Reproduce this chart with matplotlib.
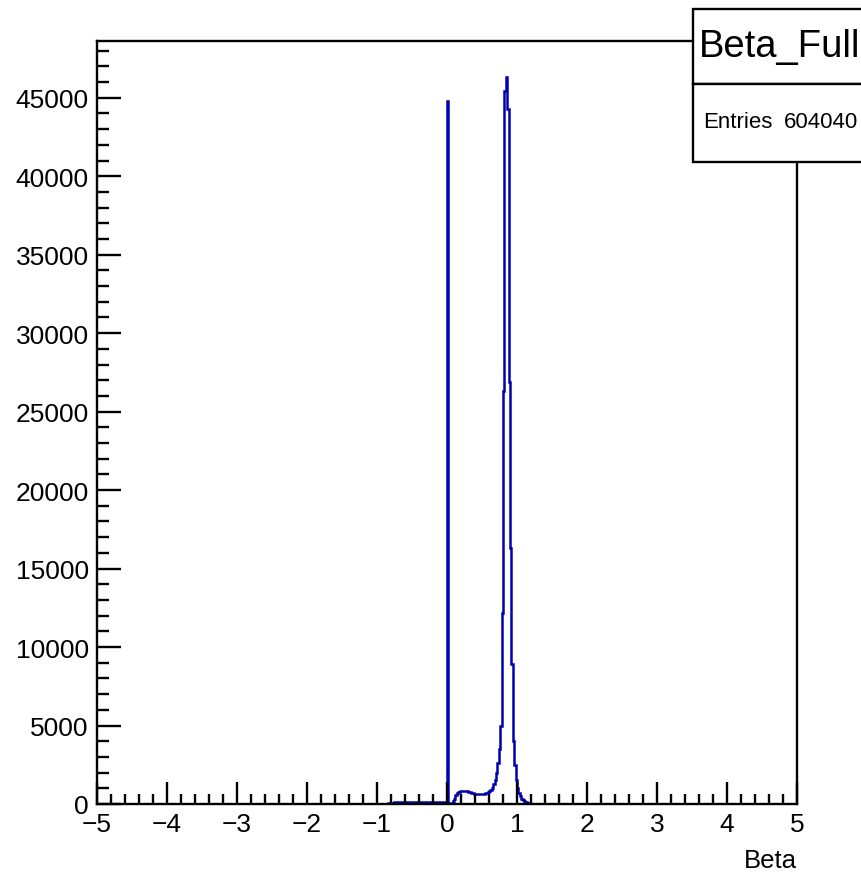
import numpy as np
import matplotlib
matplotlib.use("Agg")
import matplotlib.pyplot as plt
from matplotlib.patches import Rectangle
from matplotlib.ticker import MultipleLocator

plt.rcParams["font.family"] = ["Liberation Sans", "DejaVu Sans"]

hist_name = "Beta_Full"
n_entries = 604040
x_min, x_max, n_bins = -5.0, 5.0, 500

# counts, bins of 0.02
neg_start = -0.84
counts_neg = [60, 80, 90, 95, 100, 100, 105, 105, 110, 110,
              110, 110, 115, 115, 115, 115, 115, 120, 120, 120,
              120, 120, 120, 125, 125, 125, 125, 125, 125, 130,
              130, 130, 130, 130, 130, 130, 135, 135, 135, 135,
              135, 135]
pos_start = 0.0
counts_pos = [44800, 40, 50, 90, 180, 350, 560, 700, 780, 820,
              845, 855, 855, 845, 820, 780, 740, 700, 670, 650,
              640, 635, 635, 640, 645, 650, 660, 680, 710, 760,
              830, 920, 1050, 1250, 1550, 2000, 2600, 3500, 5000, 12200,
              26300, 45400, 46300, 44300, 26900, 16300, 8900, 4000, 2500, 1500,
              1000, 700, 480, 330, 230, 160, 110, 75, 50, 30,
              18, 10, 5]

edges = np.linspace(x_min, x_max, n_bins + 1)
width = (x_max - x_min) / n_bins
counts = np.zeros(n_bins)
i0 = int(round((neg_start - x_min) / width))
counts[i0:i0 + len(counts_neg)] = counts_neg
i1 = int(round((pos_start - x_min) / width))
counts[i1:i1 + len(counts_pos)] = counts_pos

fig = plt.figure(figsize=(8.62, 8.78), dpi=100)
ax = fig.add_axes([97 / 862, 73 / 878, 700 / 862, 763 / 878])

ax.stairs(counts, edges, color="#0000b0", lw=1.8)

ax.set_xlim(x_min, x_max)
ax.set_ylim(0, 1.05 * counts.max())

ax.xaxis.set_major_locator(MultipleLocator(1))
ax.xaxis.set_minor_locator(MultipleLocator(0.2))
ax.yaxis.set_major_locator(MultipleLocator(5000))
ax.yaxis.set_minor_locator(MultipleLocator(1000))
ax.tick_params(axis="both", which="both", direction="in", width=1.7,
               top=False, right=False, labelsize=19, colors="black")
ax.tick_params(axis="x", which="major", length=15.5, pad=6)
ax.tick_params(axis="x", which="minor", length=7.5)
ax.tick_params(axis="y", which="major", length=17, pad=6)
ax.tick_params(axis="y", which="minor", length=8.5)
for sp in ax.spines.values():
    sp.set_linewidth(1.7)

ax.set_xlabel("Beta", fontsize=18.5, loc="right")
ax.xaxis.set_label_coords(1.0, -0.058)

# title box and stats box, top right, running off the figure edge
box_x = 693 / 862
title_lo, title_hi = 793 / 878, 868 / 878
stats_lo = 715 / 878
fig.add_artist(Rectangle((box_x, title_lo), 0.3, title_hi - title_lo,
                         transform=fig.transFigure, facecolor="white",
                         edgecolor="black", lw=1.7, zorder=5))
fig.add_artist(Rectangle((box_x, stats_lo), 0.3, title_lo - stats_lo,
                         transform=fig.transFigure, facecolor="white",
                         edgecolor="black", lw=1.7, zorder=5))
fig.text(699 / 862, 831 / 878, hist_name, fontsize=27.5, ha="left",
         va="center", zorder=6)
fig.text(703 / 862, 755 / 878, "Entries", fontsize=16, ha="left",
         va="center", zorder=6)
fig.text(858 / 862, 755 / 878, str(n_entries), fontsize=16, ha="right",
         va="center", zorder=6)

fig.savefig("out.png", dpi=100)
